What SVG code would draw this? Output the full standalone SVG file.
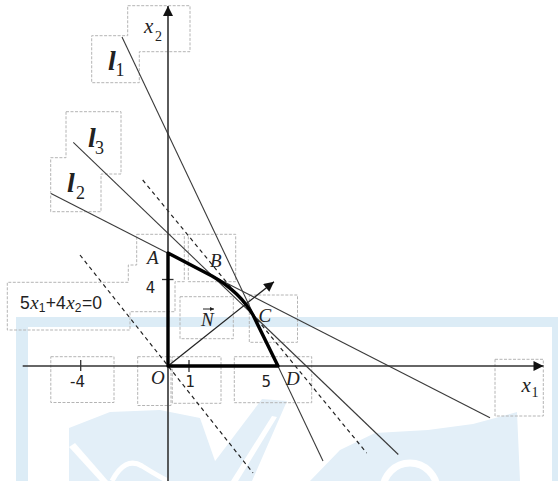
<svg xmlns="http://www.w3.org/2000/svg" width="558" height="481" viewBox="0 0 558 481">
<style>
.frame{fill:none;stroke:#b4b4b4;stroke-width:1;stroke-dasharray:3 1.5}
.axis{stroke:#333;stroke-width:1.6;fill:none}
.ln{stroke:#3a3a3a;stroke-width:1.1;fill:none}
.dash{stroke:#222;stroke-width:1.2;fill:none;stroke-dasharray:4 3.5}
.pt{font-family:"Liberation Serif",serif;font-style:italic;font-size:19px;fill:#222}
.num{font-family:"DejaVu Sans","Liberation Sans",sans-serif;font-size:15px;fill:#222}
.eq{font-family:"Liberation Sans",sans-serif;font-size:17.5px;fill:#222}
.ei{font-family:"Liberation Serif",serif;font-style:italic;font-size:19px}
.ll{font-family:"Liberation Serif",serif;font-style:italic;font-weight:bold;font-size:28px;fill:#222}
.lsub{font-family:"Liberation Serif",serif;font-size:18px;fill:#222}
.var{font-family:"Liberation Serif",serif;font-style:italic;font-size:21px;fill:#222}
.vsub{font-family:"Liberation Serif",serif;font-size:14px;fill:#222}
.wm{fill:#e3eff8}
</style>
<defs>
<marker id="arr" viewBox="0 0 10 10" refX="10" refY="5" markerUnits="userSpaceOnUse" markerWidth="11" markerHeight="10" orient="auto"><path d="M0,0 L10,5 L0,10 Z" fill="#111"/></marker>
<marker id="arrs" viewBox="0 0 10 10" refX="10" refY="5" markerUnits="userSpaceOnUse" markerWidth="5" markerHeight="4" orient="auto"><path d="M0,0 L10,5 L0,10 Z" fill="#222"/></marker>
</defs>
<rect width="558" height="481" fill="#fff"/>
<g id="watermark">
<path fill="#dcecf6" fill-rule="evenodd" d="M16,317 H558 V481 H16 Z M28,327 H552 V481 H28 Z"/>
<path class="wm" d="M69,428 L110,412 L160,410 L200,418 L222,481 L69,481 Z"/>
<path d="M69,447 L75,443 L108,481 L100,481 Z" fill="#fff"/>
<path d="M112,481 Q125,456 142,466 Q158,476 168,481" stroke="#fff" stroke-width="5" fill="none"/>
<path class="wm" d="M262,399 L287,401 L252,481 L200,481 Z"/>
<path d="M272,416 L277,417 L238,481 L231,481 Z" fill="#fff"/>
<path class="wm" d="M310,481 L340,450 L375,433 L428,430 L473,424 L517,412 L520,481 Z"/>
<circle cx="410" cy="490" r="27" stroke="#fff" stroke-width="7" fill="none"/>
</g>
<g id="label-frames">
<path class="frame" d="M127.7,5.7 H190 V51.7 H139.3 V82.7 H91.7 V35.7 H127.7 Z"/>
<path class="frame" d="M66,111.7 H121 V174 H101 V211.7 H50.7 V157.7 H66 Z"/>
<path class="frame" d="M136.7,234.3 H184.3 V281.7 H175 V311.7 H130 V330 H7.3 V282.3 H128.3 V265 H136.7 Z"/>
<rect class="frame" x="188.3" y="234.3" width="47.4" height="47.4"/>
<rect class="frame" x="180" y="296.7" width="53.3" height="42"/>
<rect class="frame" x="249.3" y="295" width="48.2" height="47.3"/>
<rect class="frame" x="50.8" y="356.7" width="63.2" height="45.8"/>
<rect class="frame" x="137.7" y="356.7" width="33.3" height="48.8"/>
<rect class="frame" x="172.3" y="356.7" width="48.7" height="46.6"/>
<rect class="frame" x="234.3" y="356.7" width="77.4" height="46"/>
<rect class="frame" x="495" y="359.3" width="48.3" height="56.7"/>
</g>
<g id="connectors">
<line class="ln" x1="122" y1="37" x2="323" y2="461"/>
<line class="ln" x1="73.3" y1="142.3" x2="398.3" y2="454.5"/>
<line class="ln" x1="51" y1="193.5" x2="490" y2="417.7"/>
<line class="dash" x1="80" y1="255" x2="253" y2="473"/>
<line class="dash" x1="142.7" y1="180" x2="366.7" y2="453"/>
<line class="axis" x1="22.7" y1="366" x2="543.5" y2="366" marker-end="url(#arr)"/>
<line class="axis" x1="168" y1="481" x2="168" y2="6" marker-end="url(#arr)"/>
<line stroke="#333" stroke-width="1.3" x1="80.7" y1="360" x2="80.7" y2="371"/>
<line stroke="#333" stroke-width="1.3" x1="189" y1="360" x2="189" y2="372"/>
<line stroke="#333" stroke-width="1.3" x1="162" y1="279.5" x2="173.5" y2="279.5"/>
<line stroke="#222" stroke-width="1.3" x1="168" y1="366" x2="274" y2="281.7" marker-end="url(#arr)"/>
</g>
<g id="feasible-region">
<path d="M168,366 L168,253 L212,276 Q240,292 253,315 L278,366 Z" fill="none" stroke="#000" stroke-width="3.4" stroke-linejoin="round"/>
</g>
<g id="node-x2"><text class="var" x="144" y="33">x</text><text class="vsub" x="155" y="41">2</text></g>
<g id="node-x1"><text class="var" x="521.5" y="391.5">x</text><text class="vsub" x="531.5" y="396.5">1</text></g>
<g id="node-l1"><text class="ll" x="108" y="70">l</text><text class="lsub" x="115.5" y="76">1</text></g>
<g id="node-l3"><text class="ll" x="88" y="146.7">l</text><text class="lsub" x="95" y="154.3">3</text></g>
<g id="node-l2"><text class="ll" x="67" y="191.7">l</text><text class="lsub" x="76" y="199.3">2</text></g>
<g id="node-A"><text class="pt" x="147" y="264">A</text></g>
<g id="node-B"><text class="pt" x="210" y="266.7">B</text></g>
<g id="node-C"><text class="pt" x="258.5" y="321.7">C</text></g>
<g id="node-D"><text class="pt" x="286" y="385">D</text></g>
<g id="node-O"><text class="pt" x="151" y="384.3">O</text></g>
<g id="node-N"><text class="pt" x="201" y="326">N</text><line x1="203" y1="309" x2="214" y2="309" stroke="#222" stroke-width="1" marker-end="url(#arrs)"/></g>
<g id="tick-labels">
<text class="num" x="145.8" y="293.3">4</text>
<text class="num" x="70" y="387">-4</text>
<text class="num" x="185.5" y="387">1</text>
<text class="num" x="261.5" y="387">5</text>
</g>
<g id="node-equation">
<text class="eq" x="20" y="308.5">5<tspan class="ei" dx="0.5">x</tspan><tspan dy="3" font-size="12">1</tspan><tspan dy="-3" dx="0.5">+4</tspan><tspan class="ei" dx="0.5">x</tspan><tspan dy="3" font-size="12">2</tspan><tspan dy="-3" dx="0.5">=0</tspan></text>
</g>
</svg>
